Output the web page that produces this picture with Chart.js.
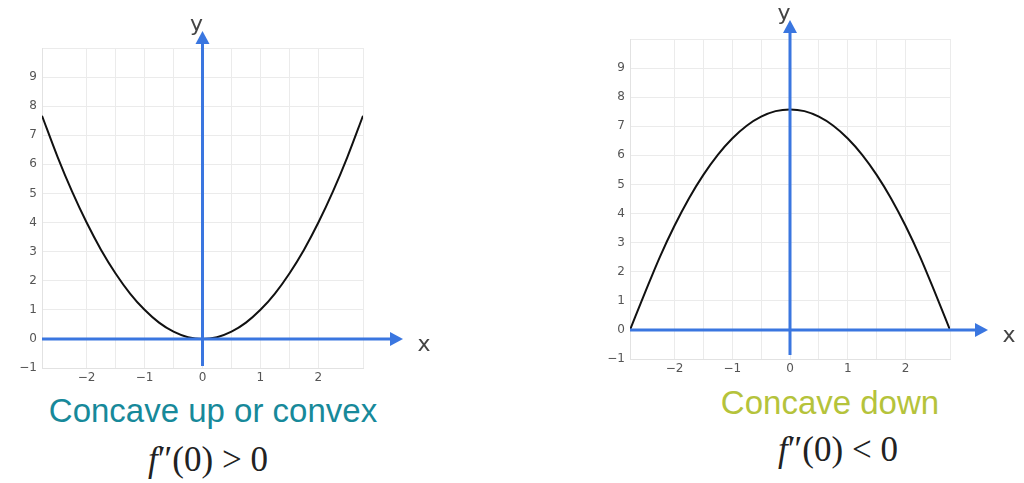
<!DOCTYPE html>
<html>
<head>
<meta charset="utf-8">
<script src="https://cdn.jsdelivr.net/npm/chart.js@4.4.1/dist/chart.umd.min.js"></script>
<style>
  body { margin: 0; background: #fff; width: 1024px; height: 483px; overflow: hidden; position: relative; }
  canvas { position: absolute; }
  .cap { position: absolute; font-family: "Liberation Sans", Arial, sans-serif; font-size: 33px; white-space: nowrap; transform: translateX(-50%); }
  .eq { position: absolute; font-family: "Liberation Serif", "Times New Roman", serif; font-size: 35px; color: #222; white-space: nowrap; transform: translateX(-50%); }
</style>
</head>
<body>
<canvas id="leftChart" width="450" height="390" style="left:0;top:0"></canvas>
<canvas id="rightChart" width="444" height="380" style="left:580px;top:0"></canvas>

<div class="cap" style="left:213px;top:392px;color:#17899a">Concave up or convex</div>
<div class="eq" style="left:208px;top:440px"><i>f</i>″(0) &gt; 0</div>
<div class="cap" style="left:830px;top:384px;color:#b5c33b">Concave down</div>
<div class="eq" style="left:838px;top:430px"><i>f</i>″(0) &lt; 0</div>

<script>
// values
const xValues = [-2.77, -2.5, -2.25, -2, -1.75, -1.5, -1.25, -1, -0.75, -0.5, -0.25, 0,
                 0.25, 0.5, 0.75, 1, 1.25, 1.5, 1.75, 2, 2.25, 2.5, 2.77];
const upValues = [7.67, 6.25, 5.06, 4, 3.06, 2.25, 1.56, 1, 0.56, 0.25, 0.06, 0,
                  0.06, 0.25, 0.56, 1, 1.56, 2.25, 3.06, 4, 5.06, 6.25, 7.67];
const downValues = [0, 1.33, 2.52, 3.58, 4.52, 5.33, 6.02, 6.58, 7.02, 7.33, 7.52, 7.58,
                    7.52, 7.33, 7.02, 6.58, 6.02, 5.33, 4.52, 3.58, 2.52, 1.33, 0];
const yTicks = [-1, 0, 1, 2, 3, 4, 5, 6, 7, 8, 9];
const xRange = [-2.77, 2.77];
const yRange = [-1, 10];

const blue = "#3a76e0";

function fmt(v) {
  if (Math.abs(v - Math.round(v)) > 1e-6) return "";
  v = Math.round(v);
  return v < 0 ? "\u2212" + (-v) : String(v);
}

// blue x/y axes with arrow heads, drawn through the scales
const arrowAxes = {
  id: "arrowAxes",
  afterDatasetsDraw(chart, args, o) {
    const { ctx, chartArea: a } = chart;
    const x0 = chart.scales.x.getPixelForValue(0);
    const y0 = chart.scales.y.getPixelForValue(0);
    ctx.save();
    ctx.strokeStyle = blue;
    ctx.fillStyle = blue;
    ctx.lineWidth = 3;
    // vertical
    const vTip = a.top - o.upExtra;
    ctx.beginPath();
    ctx.moveTo(x0, a.bottom - o.downGap);
    ctx.lineTo(x0, vTip + 10);
    ctx.stroke();
    ctx.beginPath();
    ctx.moveTo(x0, vTip);
    ctx.lineTo(x0 - 7, vTip + 13);
    ctx.lineTo(x0 + 7, vTip + 13);
    ctx.closePath();
    ctx.fill();
    // horizontal
    const hTip = a.right + o.rightExtra;
    ctx.beginPath();
    ctx.moveTo(a.left, y0);
    ctx.lineTo(hTip - 10, y0);
    ctx.stroke();
    ctx.beginPath();
    ctx.moveTo(hTip, y0);
    ctx.lineTo(hTip - 13, y0 - 7);
    ctx.lineTo(hTip - 13, y0 + 7);
    ctx.closePath();
    ctx.fill();
    // labels
    ctx.fillStyle = "#444";
    ctx.font = "22px 'DejaVu Sans', sans-serif";
    ctx.textAlign = "center";
    ctx.textBaseline = "middle";
    ctx.fillText("x", hTip + 21, y0 + 6);
    ctx.fillText("y", x0 - 6, vTip - 6);
    ctx.restore();
  }
};

function makeChart(id, values, pad, extras) {
  const points = xValues.map((x, i) => ({ x: x, y: values[i] }));
  return new Chart(document.getElementById(id), {
    type: "scatter",
    data: {
      datasets: [{
        data: points,
        showLine: true,
        borderColor: "#111",
        borderWidth: 2,
        pointRadius: 0,
        cubicInterpolationMode: "monotone"
      }]
    },
    options: {
      responsive: false,
      animation: false,
      devicePixelRatio: 1,
      layout: { padding: pad },
      plugins: { legend: { display: false }, tooltip: { enabled: false }, arrowAxes: extras },
      scales: {
        x: {
          type: "linear",
          min: xRange[0],
          max: xRange[1],
          afterFit(s) { s.height = pad.xh; },
          ticks: { stepSize: 0.5, padding: 3, color: "#555", font: { family: "DejaVu Sans", size: 12 }, callback: fmt },
          grid: { color: "#ebebeb", drawTicks: false },
          border: { color: "#e2e2e2" }
        },
        y: {
          type: "linear",
          min: yRange[0],
          max: yRange[1],
          afterFit(s) { s.width = 42; },
          afterBuildTicks(s) { s.ticks = yTicks.concat([yRange[1]]).map(v => ({ value: v })); },
          ticks: { padding: 5, color: "#555", font: { family: "DejaVu Sans", size: 12 },
                   callback: v => v === yRange[1] ? "" : fmt(v) },
          grid: { color: "#ebebeb", drawTicks: false },
          border: { color: "#e2e2e2" }
        }
      }
    },
    plugins: [arrowAxes]
  });
}

makeChart("leftChart", upValues, { top: 48, right: 87, bottom: 0, left: 0, xh: 22 },
  { upExtra: 17, downGap: 2, rightExtra: 40 });
makeChart("rightChart", downValues, { top: 39, right: 74, bottom: 0, left: 8, xh: 21 },
  { upExtra: 19, downGap: 4, rightExtra: 38 });
</script>
</body>
</html>
